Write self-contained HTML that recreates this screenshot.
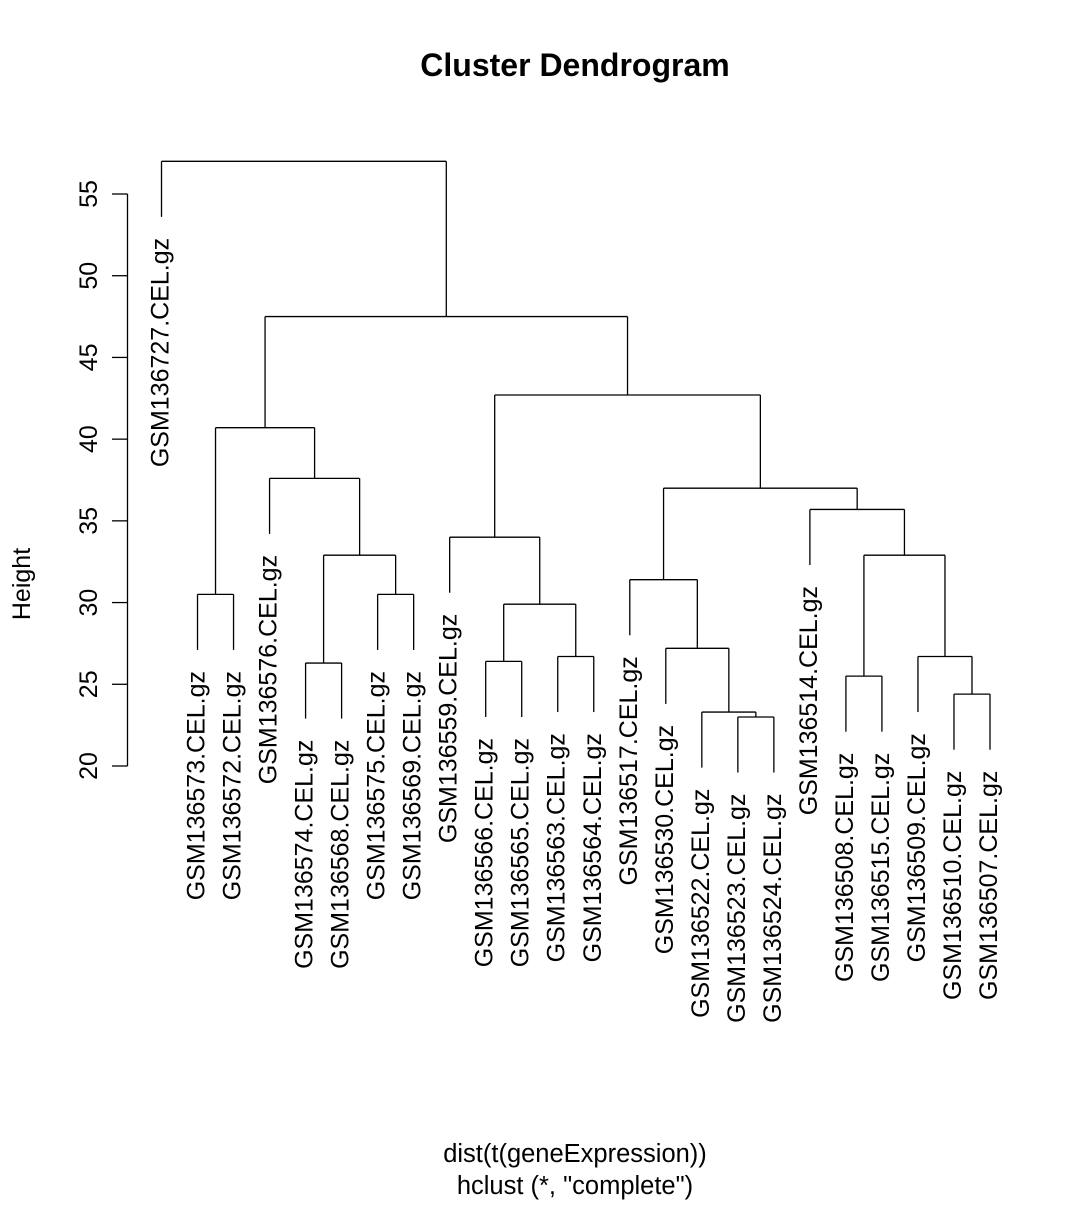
<!DOCTYPE html>
<html><head><meta charset="utf-8"><style>
html,body{margin:0;padding:0;background:#fff}
svg text{font-family:"Liberation Sans",sans-serif;fill:#000}
</style></head><body>
<svg id="chart" width="1089" height="1202" viewBox="0 0 1089 1202" xmlns="http://www.w3.org/2000/svg">
<text x="575" y="76" font-size="32" font-weight="bold" text-anchor="middle">Cluster Dendrogram</text>
<text x="575" y="1162" font-size="25.5" text-anchor="middle">dist(t(geneExpression))</text>
<text x="575" y="1194" font-size="25.5" text-anchor="middle">hclust (*, "complete")</text>
<text x="0" y="0" font-size="25" text-anchor="middle" transform="translate(30,584) rotate(-90)">Height</text>
<g id="axis"></g>
<g id="tree"></g>
<g id="labels"></g>
</svg>
<script>
const leafLabels = ["GSM136727.CEL.gz","GSM136573.CEL.gz","GSM136572.CEL.gz","GSM136576.CEL.gz","GSM136574.CEL.gz","GSM136568.CEL.gz","GSM136575.CEL.gz","GSM136569.CEL.gz","GSM136559.CEL.gz","GSM136566.CEL.gz","GSM136565.CEL.gz","GSM136563.CEL.gz","GSM136564.CEL.gz","GSM136517.CEL.gz","GSM136530.CEL.gz","GSM136522.CEL.gz","GSM136523.CEL.gz","GSM136524.CEL.gz","GSM136514.CEL.gz","GSM136508.CEL.gz","GSM136515.CEL.gz","GSM136509.CEL.gz","GSM136510.CEL.gz","GSM136507.CEL.gz"];
const mergeLeft  = [-2,-5,-7,2,-4,1,-10,-12,7,-9,-17,-16,-15,-14,-23,-22,-20,17,-19,14,10,6,-1];
const mergeRight = [-3,-6,-8,3,4,5,-11,-13,8,9,-18,11,12,13,-24,15,-21,16,18,19,20,21,22];
const mergeHeight = [30.5,26.3,30.5,32.9,37.6,40.7,26.4,26.7,29.9,34.0,23.0,23.3,27.2,31.4,24.4,26.7,25.5,32.9,35.7,37.0,42.7,47.5,57.0];
const yTicks = [20,25,30,35,40,45,50,55];
const hang = 3.4;

const NS="http://www.w3.org/2000/svg";
const y = h => 766 - (h-20)*(572/35);
const x = i => 161.5 + i*(990-161.5)/(leafLabels.length-1);
const tree=document.getElementById('tree'), axis=document.getElementById('axis'), labels=document.getElementById('labels');
function line(g,x1,y1,x2,y2,name){
  const l=document.createElementNS(NS,'line');
  l.setAttribute('x1',x1);l.setAttribute('y1',y1);l.setAttribute('x2',x2);l.setAttribute('y2',y2);
  l.setAttribute('stroke','#000');l.setAttribute('stroke-width','1.3');
  
  
  g.appendChild(l);
}
line(axis,127.5,y(yTicks[0]),127.5,y(yTicks[yTicks.length-1]),'y-axis-line');
yTicks.forEach(t=>{
  line(axis,112,y(t),127.5,y(t),'y-tick');
  const tx=document.createElementNS(NS,'text');
  tx.setAttribute('transform',`translate(97,${y(t)}) rotate(-90)`);
  tx.setAttribute('text-anchor','middle');tx.setAttribute('font-size','25');
  tx.textContent=t;
  
  
  axis.appendChild(tx);
});
const nodeX=[],nodeH=[];
function info(c,parentH){
  if(c<0){const i=-c-1;return {x:x(i),h:parentH-hang,leaf:i};}
  return {x:nodeX[c-1],h:nodeH[c-1]};
}
mergeHeight.forEach((h,k)=>{
  const a=info(mergeLeft[k],h), b=info(mergeRight[k],h);
  nodeX[k]=(a.x+b.x)/2; nodeH[k]=h;
  line(tree,a.x,y(a.h),a.x,y(h),'branch');
  line(tree,a.x,y(h),b.x,y(h),'merge-bar');
  line(tree,b.x,y(h),b.x,y(b.h),'branch');
  [a,b].forEach(n=>{
    if(n.leaf!==undefined){
      const tx=document.createElementNS(NS,'text');
      tx.setAttribute('transform',`translate(${n.x+7},${y(n.h)+21}) rotate(-90)`);
      tx.setAttribute('text-anchor','end');tx.setAttribute('font-size','25');
      tx.textContent=leafLabels[n.leaf];
      
      
      labels.appendChild(tx);
    }
  });
});
</script>
</body></html>
